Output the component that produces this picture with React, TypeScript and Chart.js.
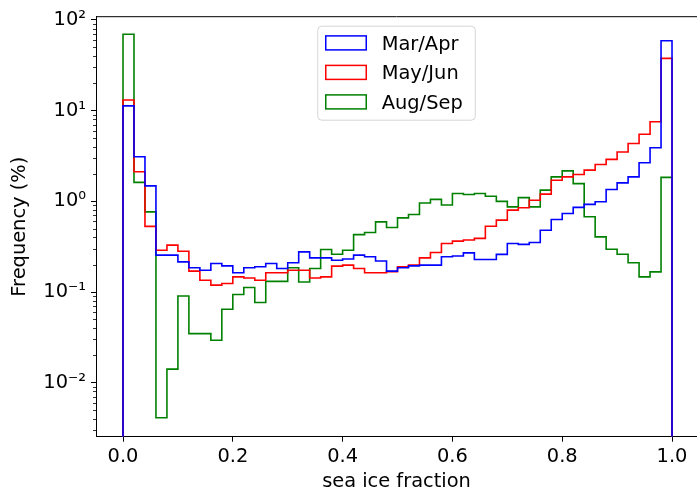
import React, { useEffect, useRef } from "react";
import { Chart, registerables } from "chart.js";

Chart.register(...registerables);

// ---- data ----
const binEdges = [
  0.0, 0.02, 0.04, 0.06, 0.08, 0.1, 0.12, 0.14, 0.16, 0.18,
  0.2, 0.22, 0.24, 0.26, 0.28, 0.3, 0.32, 0.34, 0.36, 0.38,
  0.4, 0.42, 0.44, 0.46, 0.48, 0.5, 0.52, 0.54, 0.56, 0.58,
  0.6, 0.62, 0.64, 0.66, 0.68, 0.7, 0.72, 0.74, 0.76, 0.78,
  0.8, 0.82, 0.84, 0.86, 0.88, 0.9, 0.92, 0.94, 0.96, 0.98, 1.0,
];

const marApr = [
  11.3, 3.1, 1.48, 0.255, 0.255, 0.215, 0.185, 0.174, 0.206, 0.194,
  0.163, 0.185, 0.19, 0.206, 0.182, 0.21, 0.277, 0.238, 0.238, 0.224,
  0.231, 0.255, 0.245, 0.22, 0.17, 0.185, 0.194, 0.198, 0.198, 0.245,
  0.25, 0.27, 0.228, 0.228, 0.26, 0.343, 0.335, 0.352, 0.48, 0.63,
  0.735, 0.857, 0.925, 0.99, 1.35, 1.6, 1.86, 2.66, 3.9, 59,
];

const mayJun = [
  13.1, 2.12, 0.53, 0.289, 0.329, 0.282, 0.17, 0.135, 0.119, 0.124,
  0.147, 0.143, 0.135, 0.163, 0.163, 0.174, 0.174, 0.143, 0.147, 0.193,
  0.198, 0.182, 0.163, 0.163, 0.168, 0.19, 0.198, 0.238, 0.273, 0.343,
  0.364, 0.375, 0.39, 0.532, 0.62, 0.8, 0.85, 1.03, 1.2, 1.71,
  1.86, 1.98, 2.21, 2.55, 2.9, 3.5, 4.35, 5.5, 7.55, 37.7,
];

const augSep = [
  69.5, 1.62, 0.766, 0.0041, 0.0141, 0.0905, 0.0348, 0.0348, 0.0294, 0.0646,
  0.094, 0.112, 0.0766, 0.131, 0.131, 0.185, 0.129, 0.182, 0.294, 0.261,
  0.289, 0.43, 0.454, 0.594, 0.515, 0.658, 0.716, 0.96, 1.05, 0.91,
  1.22, 1.19, 1.22, 1.14, 1.0, 0.87, 1.1, 0.87, 1.33, 1.86,
  2.17, 1.57, 0.675, 0.406, 0.296, 0.261, 0.21, 0.147, 0.167, 1.84,
];

const seriesLabels = ["Mar/Apr", "May/Jun", "Aug/Sep"];
const seriesColors = ["#0000ff", "#ff0000", "#008000"];

const xTickValues = [0, 0.2, 0.4, 0.6, 0.8, 1.0];
const xTickLabels = ["0.0", "0.2", "0.4", "0.6", "0.8", "1.0"];
const yTickValues = [0.01, 0.1, 1, 10, 100];
const yTickLabels = ["10\u207B\u00B2", "10\u207B\u00B9", "10\u2070", "10\u00B9", "10\u00B2"];

const X_MIN = -0.0492;
const X_MAX = 1.0455;
const Y_MIN = 0.002538;
const Y_MAX = 108.7;
const FLOOR = 1e-5; // step outline baseline (below the visible range)

const FONT = "DejaVu Sans";
const FS = 19.4;

function stepPoints(values: number[]) {
  const pts: { x: number; y: number }[] = [{ x: binEdges[0], y: FLOOR }];
  values.forEach((v, i) => {
    pts.push({ x: binEdges[i], y: v });
    pts.push({ x: binEdges[i + 1], y: v });
  });
  pts.push({ x: binEdges[binEdges.length - 1], y: FLOOR });
  return pts;
}

const decorPlugin = {
  id: "decor",
  afterDatasetsDraw(chart: any) {
    const { ctx, chartArea: ca, scales } = chart;
    const ys = scales.y;
    ctx.save();
    // top spine
    ctx.strokeStyle = "#000";
    ctx.lineWidth = 1;
    ctx.beginPath();
    ctx.moveTo(ca.left, ca.top);
    ctx.lineTo(ca.right, ca.top);
    ctx.stroke();
    // minor log ticks
    ctx.lineWidth = 0.8;
    for (let k = -3; k <= 2; k++) {
      for (let m = 2; m <= 9; m++) {
        const v = m * Math.pow(10, k);
        if (v < ys.min || v > ys.max) continue;
        const py = Math.round(ys.getPixelForValue(v)) + 0.5;
        ctx.beginPath();
        ctx.moveTo(ca.left - 3, py);
        ctx.lineTo(ca.left, py);
        ctx.stroke();
      }
    }
    // legend (upper center, matplotlib-like)
    const w = 157.5;
    const h = 94;
    const cx = (ca.left + ca.right) / 2;
    const lx = cx - w / 2;
    const ly = ca.top + 9.5;
    const r = 4;
    ctx.beginPath();
    ctx.moveTo(lx + r, ly);
    ctx.lineTo(lx + w - r, ly);
    ctx.arcTo(lx + w, ly, lx + w, ly + r, r);
    ctx.lineTo(lx + w, ly + h - r);
    ctx.arcTo(lx + w, ly + h, lx + w - r, ly + h, r);
    ctx.lineTo(lx + r, ly + h);
    ctx.arcTo(lx, ly + h, lx, ly + h - r, r);
    ctx.lineTo(lx, ly + r);
    ctx.arcTo(lx, ly, lx + r, ly, r);
    ctx.closePath();
    ctx.fillStyle = "rgba(255,255,255,0.8)";
    ctx.fill();
    ctx.strokeStyle = "rgba(204,204,204,0.8)";
    ctx.lineWidth = 1;
    ctx.stroke();
    ctx.font = `${FS}px "${FONT}"`;
    ctx.textAlign = "left";
    ctx.textBaseline = "alphabetic";
    chart.data.datasets.forEach((ds: any, i: number) => {
      const rowY = ly + 16.7 + i * 29.5;
      ctx.strokeStyle = ds.borderColor;
      ctx.lineWidth = 1.5;
      ctx.strokeRect(lx + 8, rowY - 7, 40.5, 14);
      ctx.fillStyle = "#000";
      ctx.fillText(ds.label, lx + 64, rowY + 0.365 * FS);
    });
    ctx.restore();
  },
};

export default function App() {
  const ref = useRef<HTMLCanvasElement | null>(null);

  useEffect(() => {
    if (!ref.current) return;
    const series = [marApr, mayJun, augSep];
    const font = { family: FONT, size: FS, lineHeight: 1.2 };
    const chart = new Chart(ref.current, {
      type: "line",
      data: {
        datasets: series.map((vals, i) => ({
          label: seriesLabels[i],
          data: stepPoints(vals),
          borderColor: seriesColors[i],
          backgroundColor: "rgba(0,0,0,0)",
          borderWidth: 1.6,
          pointRadius: 0,
          tension: 0,
          fill: false,
        })),
      },
      options: {
        responsive: false,
        animation: false,
        events: [],
        layout: { padding: { top: 16.7, left: 0, right: 0, bottom: 0 } },
        plugins: {
          legend: { display: false },
          tooltip: { enabled: false },
        },
        scales: {
          x: {
            type: "linear",
            min: X_MIN,
            max: X_MAX,
            afterBuildTicks: (s: any) => {
              s.ticks = xTickValues.map((v) => ({ value: v }));
            },
            afterFit: (s: any) => {
              s.height = 52.3;
            },
            ticks: {
              callback: (_v: any, i: number) => xTickLabels[i],
              color: "#000",
              font,
              padding: 3.5,
              maxRotation: 0,
              autoSkip: false,
            },
            grid: {
              display: true,
              drawOnChartArea: false,
              drawTicks: true,
              tickLength: 5,
              tickColor: "#000",
              tickWidth: 1,
            },
            border: { display: true, color: "#000", width: 1 },
            title: {
              display: true,
              text: "sea ice fraction",
              color: "#000",
              font,
              padding: { top: 0, bottom: -4.8 },
            },
          },
          y: {
            type: "logarithmic",
            min: Y_MIN,
            max: Y_MAX,
            afterBuildTicks: (s: any) => {
              s.ticks = yTickValues.map((v) => ({ value: v, major: true }));
            },
            afterFit: (s: any) => {
              s.width = 96;
            },
            ticks: {
              callback: (_v: any, i: number) => yTickLabels[i],
              color: "#000",
              font: { family: FONT, size: FS, lineHeight: 1.0 },
              padding: 5,
              autoSkip: false,
            },
            grid: {
              display: true,
              drawOnChartArea: false,
              drawTicks: true,
              tickLength: 5,
              tickColor: "#000",
              tickWidth: 1,
            },
            border: { display: true, color: "#000", width: 1 },
            title: {
              display: true,
              text: "Frequency (%)",
              color: "#000",
              font,
              padding: { top: 8.6, bottom: 0 },
            },
          },
        },
      },
      plugins: [decorPlugin],
    } as any);
    return () => chart.destroy();
  }, []);

  return (
    <div style={{ position: "fixed", left: 0, top: 0, width: 697, height: 489, background: "#fff" }}>
      <canvas ref={ref} width={697} height={489} style={{ display: "block" }} />
    </div>
  );
}
